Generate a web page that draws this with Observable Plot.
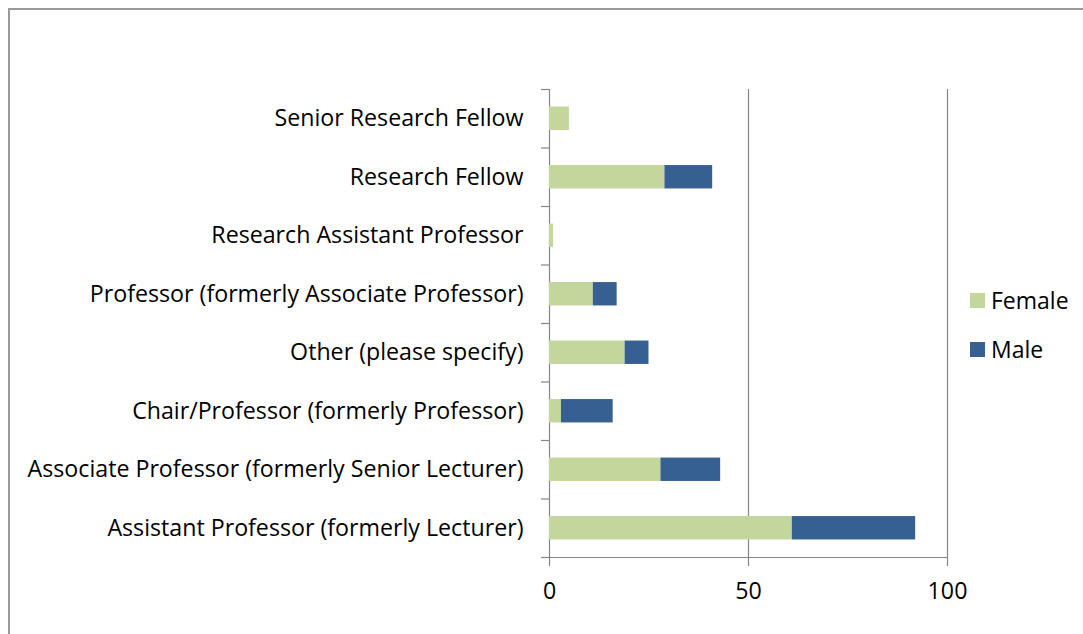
<!DOCTYPE html>
<html>
<head>
<meta charset="utf-8">
<script src="https://cdn.jsdelivr.net/npm/d3@7"></script>
<script src="https://cdn.jsdelivr.net/npm/@observablehq/plot@0.6"></script>
<style>
  html, body { margin: 0; padding: 0; background: #fff; }
  #wrap { position: relative; width: 1083px; height: 634px; overflow: hidden; font-family: "Open Sans", Lato, sans-serif; }
  #frame { position: absolute; left: 8px; top: 8px; width: 1200px; height: 800px; border-left: 2px solid #9a9a9a; border-top: 2px solid #9a9a9a; pointer-events: none; }
  #legend { position: absolute; left: 970px; top: 284px; font-size: 23px; color: #000; }
  #legend .item { display: flex; align-items: center; height: 32px; margin-bottom: 17px; }
  #legend .sw { width: 15px; height: 15px; margin-right: 6px; }
  svg { position: absolute; left: 0; top: 0; }
</style>
</head>
<body>
<div id="wrap"><div id="frame"></div><div id="legend"></div></div>
<script>
// categories listed bottom to top (as in the source spreadsheet)
const categories = [
  "Assistant Professor (formerly Lecturer)",
  "Associate Professor (formerly Senior Lecturer)",
  "Chair/Professor (formerly Professor)",
  "Other (please specify)",
  "Professor (formerly Associate Professor)",
  "Research Assistant Professor",
  "Research Fellow",
  "Senior Research Fellow"
];
const female = [61, 28, 3, 19, 11, 1, 29, 5];
const male   = [31, 15, 13, 6, 6, 0, 12, 0];
const series = ["Female", "Male"];
const colors = ["#C3D69B", "#376092"];
const xTicks = [0, 50, 100];

const table = [];
categories.forEach((c, i) => {
  table.push({cat: c, i, sex: "Female", x1: 0, x2: female[i]});
  table.push({cat: c, i, sex: "Male", x1: female[i], x2: female[i] + male[i]});
});

const barHalf = 0.2; // half of bar thickness in band units
const gray = "#868686";
const font = "'Open Sans', Lato, sans-serif";
const fs = 23.2;

const chart = Plot.plot({
  width: 1083,
  height: 634,
  marginLeft: 549,
  marginRight: 136,
  marginTop: 89,
  marginBottom: 77,
  style: {fontFamily: font, fontSize: fs + "px", color: "#000", background: "transparent"},
  x: {domain: [0, 100]},
  y: {domain: [0, categories.length]},
  color: {domain: series, range: colors},
  marks: [
    Plot.ruleX(xTicks, {stroke: gray, strokeWidth: 1.2, strokeOpacity: 1}),
    Plot.rect(table.filter(d => d.x2 > d.x1), {
      x1: "x1", x2: "x2",
      y1: d => d.i + 0.5 - barHalf, y2: d => d.i + 0.5 + barHalf,
      fill: "sex"
    }),
    Plot.ruleY([0], {stroke: gray, strokeWidth: 1.2}),
    Plot.axisY(d3.range(categories.length + 1), {tickSize: 8, tickFormat: () => "", stroke: gray, strokeWidth: 1.2, strokeOpacity: 1}),
    Plot.axisY(categories.map((c, i) => i + 0.5), {tickSize: 0, tickPadding: 26, tickFormat: v => categories[Math.round(v - 0.5)], fill: "#000", fontSize: fs}),
    Plot.axisX(xTicks, {tickSize: 9, tickPadding: 16, stroke: gray, strokeWidth: 1.2, strokeOpacity: 1, fill: "#000", fontSize: fs, tickFormat: d => String(d)})
  ]
});
document.getElementById("wrap").appendChild(chart);

const legend = document.getElementById("legend");
series.forEach((s, k) => {
  const item = document.createElement("div");
  item.className = "item";
  const sw = document.createElement("span");
  sw.className = "sw";
  sw.style.background = colors[k];
  const t = document.createElement("span");
  t.textContent = s;
  item.appendChild(sw);
  item.appendChild(t);
  legend.appendChild(item);
});
</script>
</body>
</html>
